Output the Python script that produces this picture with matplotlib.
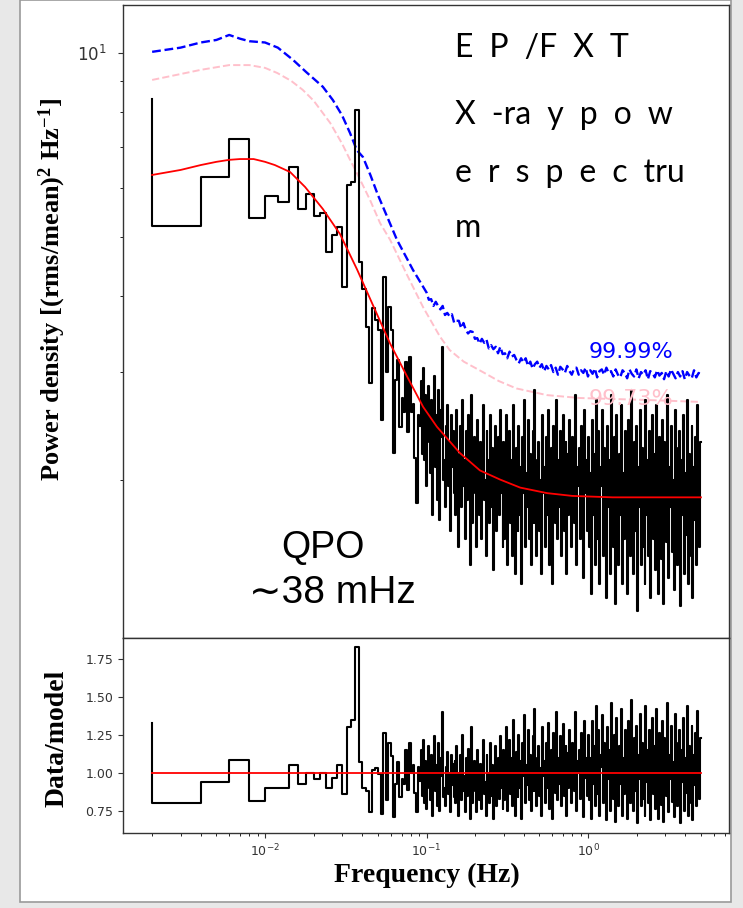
import numpy as np
import matplotlib
matplotlib.use('Agg')
import matplotlib.pyplot as plt
from matplotlib.patches import Rectangle
from matplotlib.ticker import NullFormatter

plt.rcParams['mathtext.default'] = 'regular'

# ---- data ----
# first 45 Fourier bins (0.002 Hz spacing), step drawn with where='pre'
bin_index = np.arange(1, 46)
power_low = [8.41, 5.20, 6.26, 7.23, 5.36, 5.83, 5.70, 6.50, 5.55, 5.87,
             5.40, 5.47, 4.71, 5.03, 5.19, 4.13, 6.08, 6.14, 8.06, 4.54,
             4.10, 3.55, 2.88, 3.82, 3.65, 3.52, 2.50, 4.29, 3.00, 3.83,
             3.52, 2.21, 2.91, 3.14, 2.44, 2.72, 2.58, 3.12, 2.39, 3.17,
             2.58, 2.66, 2.17, 1.83, 2.55]
ratio_low = [1.33, 0.80, 0.94, 1.085, 0.815, 0.90, 0.90, 1.05, 0.93, 1.00,
             0.96, 1.00, 0.90, 0.97, 1.05, 0.86, 1.30, 1.35, 1.83, 1.07,
             0.90, 0.88, 0.74, 1.02, 1.03, 0.99, 0.73, 1.26, 0.82, 1.20,
             1.11, 0.71, 0.93, 1.07, 0.84, 0.96, 0.93, 1.15, 0.89, 1.20,
             1.00, 1.05, 0.87, 0.74, 1.04]

# above ~0.09 Hz the bins are too dense to read one by one: values estimated
# along the band, placed on a log grid from 0.092 to 5 Hz
power_high = [2.45, 2.90, 2.20, 3.05, 2.60, 2.15, 2.75, 1.95, 2.50, 2.85,
              2.30, 2.05, 2.70, 1.75, 2.40, 2.95, 2.10, 2.55, 1.85, 2.80,
              2.25, 1.72, 2.60, 2.35, 3.30, 2.00, 2.15, 1.80, 2.45, 2.65,
              1.95, 2.30, 1.65, 2.55, 2.10, 2.40, 1.90,
              2.35, 1.75, 2.60, 2.05, 1.55, 2.20, 2.45, 1.80, 2.70, 1.95,
              2.15, 1.60, 2.40, 1.85, 2.55, 2.00, 1.45, 2.25, 2.75, 1.70,
              2.10, 2.35, 1.90, 1.55, 2.50, 2.05, 1.75, 2.30, 1.60, 2.20,
              2.65, 1.85, 2.00, 1.50, 2.40, 1.95, 2.15, 1.70, 2.55, 1.80,
              2.25, 1.42, 2.10, 2.45, 1.65, 2.00, 2.35, 1.75, 2.60, 1.90,
              2.15, 1.55,
              2.30, 1.60, 2.05, 2.55, 1.45, 1.95, 2.40, 1.70, 2.15, 1.50,
              2.65, 1.85, 1.40, 2.25, 2.00, 1.65, 2.45, 1.75, 2.10, 1.35,
              2.35, 1.90, 2.70, 1.55, 2.05, 1.80, 2.50, 1.60, 2.20, 1.45,
              1.95, 2.40, 1.70, 2.80, 1.85, 1.50, 2.15, 2.30, 1.65, 2.00,
              1.40, 2.55, 1.90, 2.10, 1.55, 2.35, 1.75, 2.60, 1.45, 2.05,
              1.85, 2.25, 1.35, 2.45, 1.95, 1.70, 2.70, 1.60, 2.15, 1.80,
              2.40, 1.50, 2.00, 2.55, 1.65, 1.90, 2.30, 1.40, 2.20, 1.75,
              2.50, 1.85, 1.55, 2.35, 2.05, 1.70, 2.75, 1.45, 2.10, 1.95,
              2.25, 1.60, 2.45, 1.80, 2.00, 1.38, 2.60, 1.90, 2.15, 1.65,
              2.35, 1.55, 2.05, 1.30, 2.50, 1.75, 2.20, 1.45, 2.70, 1.85,
              1.60, 2.40, 1.35, 2.10, 1.95, 2.60, 1.50, 2.25, 1.70, 1.28,
              2.45, 1.80, 2.15, 1.40, 2.75, 1.65, 2.00, 1.55, 2.35, 1.25,
              2.55, 1.90, 1.45, 2.20, 1.75, 2.65, 1.35, 2.05, 1.60, 2.40,
              1.85, 1.30, 2.50, 1.70, 2.15, 1.50, 2.80, 1.95, 1.40, 2.30,
              1.65, 2.45, 1.22, 2.10, 1.80, 2.60, 1.45, 2.25, 1.55, 2.00,
              1.35, 2.70, 1.75, 2.15, 1.50, 2.40, 1.28, 1.95, 2.55, 1.60,
              2.20, 1.42, 2.65, 1.85, 1.30, 2.35, 1.70, 2.05, 1.48, 2.50,
              1.25, 2.30, 1.90, 1.58, 2.75, 1.38, 2.10, 1.80, 2.45, 1.52,
              2.00, 1.32, 2.60, 1.68, 2.25, 1.45, 1.95, 2.40, 1.24, 2.15,
              1.75, 2.55, 1.40, 2.05, 1.62, 2.70, 1.35, 2.20, 1.85, 1.50,
              2.45, 1.28, 2.10, 1.72, 2.35, 1.45, 2.65, 1.90, 1.55, 2.30]
ratio_high = [0.95, 1.15, 0.85, 1.22, 1.00, 0.80, 1.08, 0.76, 0.98, 1.18,
              0.90, 0.82, 1.12, 0.72, 1.02, 1.24, 0.88, 1.05, 0.78, 1.20,
              0.95, 0.75, 1.10, 0.98, 1.40, 0.84, 0.90, 0.78, 1.04, 1.14,
              0.86, 1.00, 0.74, 1.12, 0.92, 1.06, 0.84,
              1.08, 0.80, 1.18, 0.92, 0.72, 1.00, 1.12, 0.82, 1.25, 0.88,
              0.98, 0.74, 1.10, 0.85, 1.16, 0.94, 0.70, 1.04, 1.30, 0.80,
              0.96, 1.08, 0.88, 0.74, 1.15, 0.95, 0.82, 1.06, 0.76, 1.02,
              1.22, 0.86, 0.94, 0.72, 1.12, 0.92, 1.00, 0.80, 1.20, 0.85,
              1.05, 0.70, 0.98, 1.18, 0.78, 0.95, 1.10, 0.83, 1.24, 0.90,
              1.02, 0.76,
              1.15, 0.82, 1.04, 1.30, 0.75, 1.00, 1.22, 0.86, 1.10, 0.78,
              1.35, 0.95, 0.72, 1.14, 1.02, 0.84, 1.25, 0.90, 1.08, 0.70,
              1.20, 0.98, 1.38, 0.80, 1.05, 0.92, 1.28, 0.82, 1.12, 0.75,
              1.00, 1.24, 0.88, 1.42, 0.95, 0.78, 1.10, 1.18, 0.85, 1.03,
              0.72, 1.30, 0.98, 1.08, 0.80, 1.20, 0.90, 1.33, 0.76, 1.05,
              0.95, 1.15, 0.70, 1.26, 1.00, 0.87, 1.40, 0.82, 1.10, 0.93,
              1.24, 0.78, 1.03, 1.32, 0.85, 0.98, 1.18, 0.72, 1.13, 0.90,
              1.28, 0.95, 0.80, 1.20, 1.05, 0.88, 1.40, 0.75, 1.08, 1.00,
              1.15, 0.83, 1.26, 0.93, 1.03, 0.71, 1.34, 0.97, 1.10, 0.85,
              1.25, 0.82, 1.10, 0.70, 1.34, 0.93, 1.18, 0.78, 1.44, 0.98,
              0.86, 1.28, 0.72, 1.12, 1.04, 1.38, 0.80, 1.20, 0.90, 0.69,
              1.30, 0.96, 1.15, 0.75, 1.46, 0.88, 1.07, 0.83, 1.25, 0.68,
              1.36, 1.01, 0.78, 1.18, 0.93, 1.42, 0.72, 1.10, 0.86, 1.28,
              0.99, 0.70, 1.34, 0.91, 1.15, 0.80, 1.48, 1.04, 0.75, 1.23,
              0.88, 1.31, 0.67, 1.12, 0.96, 1.39, 0.78, 1.20, 0.83, 1.07,
              0.72, 1.44, 0.94, 1.15, 0.80, 1.28, 0.69, 1.04, 1.36, 0.86,
              1.18, 0.76, 1.42, 0.99, 0.70, 1.26, 0.91, 1.10, 0.79, 1.34,
              0.68, 1.23, 1.02, 0.85, 1.46, 0.74, 1.12, 0.96, 1.31, 0.81,
              1.07, 0.71, 1.39, 0.90, 1.20, 0.78, 1.04, 1.28, 0.67, 1.15,
              0.94, 1.36, 0.75, 1.10, 0.87, 1.44, 0.72, 1.18, 0.99, 0.80,
              1.31, 0.69, 1.12, 0.92, 1.26, 0.78, 1.41, 1.02, 0.83, 1.23]

# best-fit continuum (red)
model_freq = [0.002, 0.003, 0.004, 0.005, 0.006, 0.007, 0.0085, 0.010, 0.0115,
              0.0143, 0.0177, 0.0228, 0.0291, 0.0371, 0.0466, 0.0595, 0.0758,
              0.0953, 0.116, 0.161, 0.214, 0.285, 0.38, 0.557, 0.8, 1.42, 5.0]
model_power = [6.31, 6.43, 6.55, 6.63, 6.68, 6.70, 6.70, 6.63, 6.55,
               6.38, 6.03, 5.55, 5.05, 4.42, 3.86, 3.34, 2.95,
               2.63, 2.44, 2.21, 2.07, 2.00, 1.94, 1.90, 1.88, 1.87, 1.87]

# 99.73% significance level (pink)
sig3_freq = [0.002, 0.004, 0.006, 0.008, 0.010, 0.0119, 0.0145, 0.0171, 0.020,
             0.0253, 0.030, 0.0336, 0.037, 0.0447, 0.0516, 0.0595, 0.075,
             0.0953, 0.121, 0.139, 0.17, 0.223, 0.28, 0.36, 0.557, 0.89, 2.3, 5.0]
sig3_power = [9.03, 9.38, 9.55, 9.55, 9.45, 9.27, 9.00, 8.70, 8.35,
              7.68, 7.10, 6.68, 6.36, 5.74, 5.26, 4.94, 4.35,
              3.83, 3.43, 3.26, 3.12, 3.00, 2.90, 2.82, 2.75, 2.72, 2.70, 2.68]

# 99.99% significance level (blue), jagged above 0.1 Hz
sig4_freq_low = [0.002, 0.003, 0.004, 0.005, 0.006, 0.007, 0.008, 0.010, 0.012,
                 0.0149, 0.018, 0.0228, 0.0263, 0.030, 0.0336, 0.037, 0.0404,
                 0.045, 0.050, 0.056, 0.0656, 0.0824]
sig4_power_low = [10.04, 10.2, 10.4, 10.5, 10.7, 10.55, 10.45, 10.4, 10.2,
                  9.74, 9.30, 8.80, 8.37, 7.90, 7.39, 6.93, 6.75,
                  6.30, 5.85, 5.45, 4.94, 4.41]
sig4_power_high = [4.05, 3.94, 3.95, 3.85, 3.91, 3.85, 3.80, 3.85, 3.72, 3.75,
                   3.70, 3.73, 3.61, 3.64, 3.64, 3.54, 3.61, 3.52, 3.47, 3.50,
                   3.49, 3.40, 3.41, 3.34, 3.40, 3.35, 3.39, 3.28, 3.32, 3.27,
                   3.30, 3.22, 3.30, 3.21, 3.22, 3.16, 3.24, 3.18, 3.20, 3.14,
                   3.10, 3.16, 3.11, 3.16, 3.07, 3.12, 3.04, 3.09, 3.12, 3.05,
                   3.09, 3.01, 3.07, 3.03, 3.08, 3.00, 3.05, 2.97, 3.06, 3.03,
                   2.99, 3.07, 3.01, 2.97, 3.04, 3.05, 2.97, 3.02, 2.99, 3.05,
                   2.95, 3.02, 2.98, 3.04, 2.94, 3.01, 3.03, 2.97, 3.05, 2.99,
                   3.01, 2.95, 3.03, 2.97, 2.94, 3.02, 2.99, 2.93, 3.03, 2.98,
                   2.95, 3.03, 2.93, 3.00, 2.97, 3.02, 2.92, 3.01, 2.99, 2.94,
                   3.02, 2.96, 2.99, 2.92, 3.01, 2.95, 3.03, 2.98, 2.93, 3.00,
                   2.95, 3.01, 2.92, 3.00, 2.96, 2.93, 3.02, 2.94, 2.99, 2.97]

freq = np.concatenate([0.002 * bin_index, np.geomspace(0.092, 5.0, len(power_high))])
power = np.concatenate([power_low, power_high])
ratio = np.concatenate([ratio_low, ratio_high])
sig4_freq = np.concatenate([sig4_freq_low, np.geomspace(0.1, 5.0, len(sig4_power_high))])
sig4_power = np.concatenate([sig4_power_low, sig4_power_high])

# ---- figure ----
W, H = 743, 908
fig = plt.figure(figsize=(W / 100, H / 100), dpi=100, facecolor='#e8e8e8')
fig.patches.append(Rectangle((20 / W, 6 / H), 711 / W, 1 - 6 / H, transform=fig.transFigure,
                             facecolor='white', edgecolor='#9a9a9a', lw=1.2, zorder=-10))

ax1 = fig.add_axes([123 / W, 1 - 638 / H, 606 / W, 633 / H])
ax2 = fig.add_axes([123 / W, 1 - 833 / H, 606 / W, 195 / H], sharex=ax1)

for ax in (ax1, ax2):
    for s in ax.spines.values():
        s.set_color('#333333')
        s.set_linewidth(1.0)
    ax.tick_params(colors='#333333', labelcolor='#333333', labelsize=9)

ax1.plot(sig4_freq, sig4_power, '--', color='blue', lw=1.7, zorder=2)
ax1.plot(sig3_freq, sig3_power, '--', color='pink', lw=1.4, zorder=2)
ax1.step(freq, power, where='pre', color='black', lw=1.5, zorder=3)
ax1.plot(model_freq, model_power, color='red', lw=1.3, zorder=4)

ax1.set_xscale('log')
ax1.set_yscale('log')
ax1.set_xlim(0.00132, 7.46)
ax1.set_ylim(1.10, 11.98)
ax1.yaxis.set_minor_formatter(NullFormatter())
ax1.tick_params(axis='y', which='major', labelsize=12, pad=8)
ax1.tick_params(axis='x', which='both', bottom=False, labelbottom=False)
ax1.set_ylabel(r'Power density [(rms/mean)$^2$ Hz$^{-1}$]', family='Liberation Serif',
               weight='bold', fontsize=19, va='center')
ax1.yaxis.set_label_coords(-0.117, 0.55)

ax1.text(1.84, 3.24, '99.99%', color='blue', fontsize=16, ha='center', va='center')
t = ax1.text(1.84, 2.71, '99.73%', color='pink', fontsize=16, ha='center', va='center')
t.set_clip_path(Rectangle((0, 0.376), 1, 1, transform=ax1.transAxes))

ax2.step(freq, ratio, where='pre', color='black', lw=1.5, zorder=3)
ax2.plot(model_freq, np.divide(model_power, model_power), color='red', lw=1.3, zorder=4)
ax2.set_ylim(0.605, 1.888)
ax2.set_yticks([0.75, 1.00, 1.25, 1.50, 1.75])
ax2.set_ylabel('Data/model', family='Liberation Serif', weight='bold', fontsize=20, va='center')
ax2.yaxis.set_label_coords(-0.109, 0.487)
ax2.set_xlabel('Frequency (Hz)', family='Liberation Serif', weight='bold', fontsize=20, va='center')
ax2.xaxis.set_label_coords(0.502, -0.22)

# annotations (letter-spaced slide text)
lines = ['E P /F X T', 'X -ra y p o w', 'e r s p e c tru', 'm']
for line, y in zip(lines, [57, 124, 182, 237]):
    fig.text(455 / W, 1 - y / H, line.replace(' ', '\u2002'), family=['Lato', 'DejaVu Sans'],
             fontsize=23, va='baseline')
fig.text(323 / W, 1 - 558 / H, 'QPO', family=['Liberation Sans', 'DejaVu Sans'],
         fontsize=27, ha='center', va='baseline')
fig.text(332 / W, 1 - 603 / H, '\u223c38 mHz', family=['Liberation Sans', 'DejaVu Sans'],
         fontsize=28, ha='center', va='baseline')

fig.savefig('out.png', dpi=100, facecolor=fig.get_facecolor())
